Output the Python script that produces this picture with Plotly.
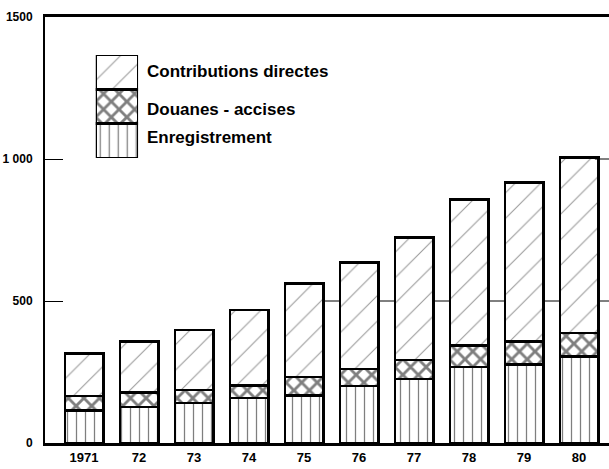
import plotly.graph_objects as go

years = ["1971", "72", "73", "74", "75", "76", "77", "78", "79", "80"]
enregistrement = [115, 127, 141, 159, 168, 200, 226, 268, 276, 304]
douanes = [50, 50, 46, 43, 64, 61, 66, 76, 81, 84]
contributions = [150, 180, 211, 266, 330, 375, 432, 513, 561, 618]
notes = {"78": "(1)", "79": "(1)", "80": "(2)"}

series_names = ["Enregistrement", "Douanes - accises", "Contributions directes"]
y_ticks = [0, 500, 1000, 1500]
y_ticktext = ["0", "500", "1 000", "1500"]

narrow = dict(family="Liberation Sans Narrow, Liberation Sans, Arial, sans-serif",
              size=12, color="black", weight="bold")
patterns = [
    dict(shape="|", size=9, solidity=0.14, fgcolor="black", bgcolor="white"),
    dict(shape="x", size=11, solidity=0.45, fgcolor="black", bgcolor="white"),
    dict(shape="/", size=18, solidity=0.06, fgcolor="#333", bgcolor="white"),
]

fig = go.Figure()

for name, vals, pat in zip(series_names, [enregistrement, douanes, contributions], patterns):
    fig.add_trace(go.Bar(
        x=years, y=vals, name=name, width=0.7,
        marker=dict(color="white", pattern=pat, line=dict(color="black", width=2.5)),
        showlegend=False, hoverinfo="skip",
    ))
    # legend patch: one segment of a stacked bar on its own small axes
    fig.add_trace(go.Bar(
        x=[0], y=[1], width=1, xaxis="x2", yaxis="y2",
        marker=dict(color="white", pattern=pat, line=dict(color="black", width=2.5)),
        showlegend=False, hoverinfo="skip",
    ))

totals = [a + b + c for a, b, c in zip(enregistrement, douanes, contributions)]
for yr, tot in zip(years, totals):
    if yr in notes:
        fig.add_annotation(x=yr, y=tot, text=notes[yr], showarrow=False, yshift=18,
                           font=dict(narrow, size=14))

for name, ly in zip(series_names[::-1], [0.871, 0.784, 0.716]):
    fig.add_annotation(x=0.177, y=ly, xref="paper", yref="paper", text=name,
                       showarrow=False, xanchor="left", yanchor="middle",
                       font=dict(family="Liberation Sans, Arial, sans-serif", size=17,
                                 color="black", weight="bold"))

# 500 reference line and right-hand tick
fig.add_shape(type="line", xref="x", yref="y", x0=4.3, x1=9.545, y0=500, y1=500,
              line=dict(color="black", width=1), layer="below")
fig.add_shape(type="line", xref="paper", yref="y", x0=0.975, x1=1.0, y0=1000, y1=1000,
              line=dict(color="black", width=1))

fig.update_layout(
    width=609, height=469,
    margin=dict(l=45, r=0, t=17, b=26),
    paper_bgcolor="white", plot_bgcolor="white",
    barmode="stack",
    xaxis=dict(
        type="category", range=[-0.71, 9.545], showgrid=False, zeroline=False,
        showline=True, linecolor="black", linewidth=3, mirror=True, automargin=False,
        ticks="", tickfont=dict(narrow, size=13),
    ),
    yaxis=dict(
        range=[0, 1500], tickvals=y_ticks, ticktext=y_ticktext, automargin=False,
        showgrid=False, zeroline=False, showline=True, linecolor="black", linewidth=2,
        ticks="inside", ticklen=18, tickwidth=1, tickcolor="black",
        ticklabelstandoff=8, tickfont=narrow,
    ),
    xaxis2=dict(domain=[0.09, 0.165], range=[-0.5, 0.5], visible=False, anchor="y2"),
    yaxis2=dict(domain=[0.669, 0.911], range=[0, 3], visible=False, anchor="x2"),
)

# drop the browser's default body margin so the figure sits at the page corner
fig.write_html("out.html", config={"displayModeBar": False},
               post_script="document.body.style.margin = '0';")
